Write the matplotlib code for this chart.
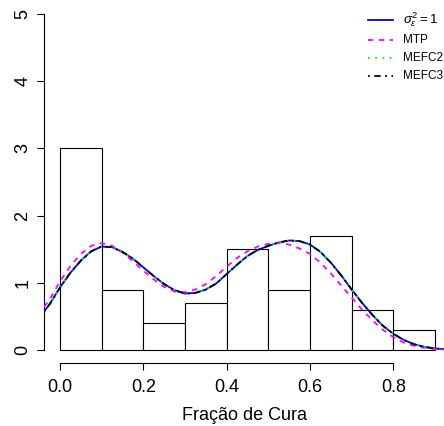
import matplotlib
matplotlib.use("Agg")
import matplotlib.pyplot as plt
from matplotlib.lines import Line2D

plt.rcParams['font.family'] = ['Liberation Sans', 'DejaVu Sans']
plt.rcParams['mathtext.fontset'] = 'custom'
plt.rcParams['mathtext.rm'] = 'Liberation Sans'
plt.rcParams['mathtext.it'] = 'Liberation Sans:italic'
plt.rcParams['mathtext.sf'] = 'Liberation Sans'

# Histogram of the cure fraction (density scale)
bin_edges = [0.0, 0.1, 0.2, 0.3, 0.4, 0.5, 0.6, 0.7, 0.8, 0.9]
densities = [3.0, 0.9, 0.4, 0.7, 1.5, 0.9, 1.7, 0.6, 0.3]

# Fitted density curves evaluated on a common grid
grid = [-0.0384, -0.025, 0.0, 0.025, 0.05, 0.075, 0.1, 0.125, 0.15, 0.175,
        0.2, 0.225, 0.25, 0.275, 0.3, 0.325, 0.35, 0.375, 0.4, 0.425,
        0.45, 0.475, 0.5, 0.525, 0.55, 0.575, 0.6, 0.625, 0.65, 0.675,
        0.7, 0.725, 0.75, 0.775, 0.8, 0.825, 0.85, 0.875, 0.9, 0.9216]

dens_sigma1 = [0.57, 0.68, 0.93, 1.15, 1.33, 1.47, 1.54, 1.53, 1.46, 1.36,
               1.23, 1.10, 0.98, 0.89, 0.84, 0.85, 0.90, 0.99, 1.13, 1.27,
               1.40, 1.49, 1.55, 1.60, 1.63, 1.62, 1.57, 1.46, 1.30, 1.11,
               0.90, 0.70, 0.52, 0.36, 0.24, 0.15, 0.085, 0.045, 0.022, 0.012]

dens_mtp = [0.64, 0.75, 1.02, 1.25, 1.43, 1.55, 1.59, 1.55, 1.45, 1.32,
            1.18, 1.05, 0.94, 0.87, 0.86, 0.90, 0.98, 1.10, 1.24, 1.37,
            1.47, 1.54, 1.58, 1.59, 1.57, 1.51, 1.43, 1.30, 1.14, 0.96,
            0.78, 0.60, 0.44, 0.30, 0.19, 0.11, 0.06, 0.03, 0.015, 0.006]

dens_mefc2 = [0.57, 0.68, 0.93, 1.15, 1.33, 1.47, 1.54, 1.53, 1.46, 1.36,
              1.23, 1.10, 0.98, 0.89, 0.84, 0.85, 0.90, 0.99, 1.13, 1.27,
              1.40, 1.49, 1.55, 1.60, 1.63, 1.62, 1.57, 1.46, 1.30, 1.11,
              0.90, 0.70, 0.52, 0.36, 0.24, 0.15, 0.085, 0.045, 0.022, 0.012]

dens_mefc3 = [0.57, 0.68, 0.93, 1.15, 1.33, 1.47, 1.54, 1.53, 1.46, 1.36,
              1.23, 1.10, 0.98, 0.89, 0.84, 0.85, 0.90, 0.99, 1.13, 1.27,
              1.40, 1.49, 1.55, 1.60, 1.63, 1.62, 1.57, 1.46, 1.30, 1.11,
              0.90, 0.70, 0.52, 0.36, 0.24, 0.15, 0.085, 0.045, 0.022, 0.012]

legend_labels = [r'$\sigma^2_{\varepsilon} = 1$', 'MTP', 'MEFC2', 'MEFC3']
x_ticks = [0.0, 0.2, 0.4, 0.6, 0.8]
y_ticks = [0, 1, 2, 3, 4, 5]

W, H = 444, 426
fig = plt.figure(figsize=(W / 100, H / 100), dpi=100)
ax = fig.add_axes([44 / W, (H - 363.4) / H, 400 / W, 363.4 / H])

widths = [bin_edges[i + 1] - bin_edges[i] for i in range(len(densities))]
ax.bar(bin_edges[:-1], densities, width=widths, align='edge',
       facecolor='white', edgecolor='black', linewidth=0.8, zorder=1)

styles = [dict(color='blue', ls='-'),
          dict(color='magenta', ls=(0, (3, 3))),
          dict(color='#00ff00', ls=(0, (1, 3))),
          dict(color='black', ls=(0, (1, 2.5, 3.5, 2.5)))]
series = [dens_sigma1, dens_mtp, dens_mefc2, dens_mefc3]
for z, (ys, st) in enumerate(zip(series, styles)):
    ax.plot(grid, ys, lw=1.3, zorder=2 + z, **st)

ax.set_xlim(-0.0384, 0.9216)
ax.set_ylim(-0.2, 5.21)

for side in ('top', 'right'):
    ax.spines[side].set_visible(False)
ax.spines['left'].set_bounds(0, 5)
ax.spines['bottom'].set_bounds(0, 0.8)
ax.spines['left'].set_linewidth(0.8)
ax.spines['bottom'].set_linewidth(0.8)

ax.set_xticks(x_ticks)
ax.set_xticklabels([f'{v:.1f}' for v in x_ticks])
ax.set_yticks(y_ticks)
ax.set_yticklabels([str(v) for v in y_ticks], rotation=90, va='center')
ax.tick_params(axis='both', length=5, width=0.8, labelsize=13)
ax.tick_params(axis='x', pad=6)
ax.tick_params(axis='y', pad=4)

ax.set_xlabel('Fração de Cura', fontsize=13, labelpad=8)

# Legend drawn in figure pixel coordinates (no frame)
row_y = [20, 40, 58, 76]
label_sizes = [9.5, 8.5, 8.5, 8.5]
for y, st, lab, fs in zip(row_y, styles, legend_labels, label_sizes):
    fy = (H - y) / H
    fig.add_artist(Line2D([368 / W, 393 / W], [fy, fy], transform=fig.transFigure,
                          lw=1.3, **st))
    fig.text(403 / W, fy, lab, fontsize=fs, va='center', ha='left')

fig.savefig('out.png', dpi=100)
